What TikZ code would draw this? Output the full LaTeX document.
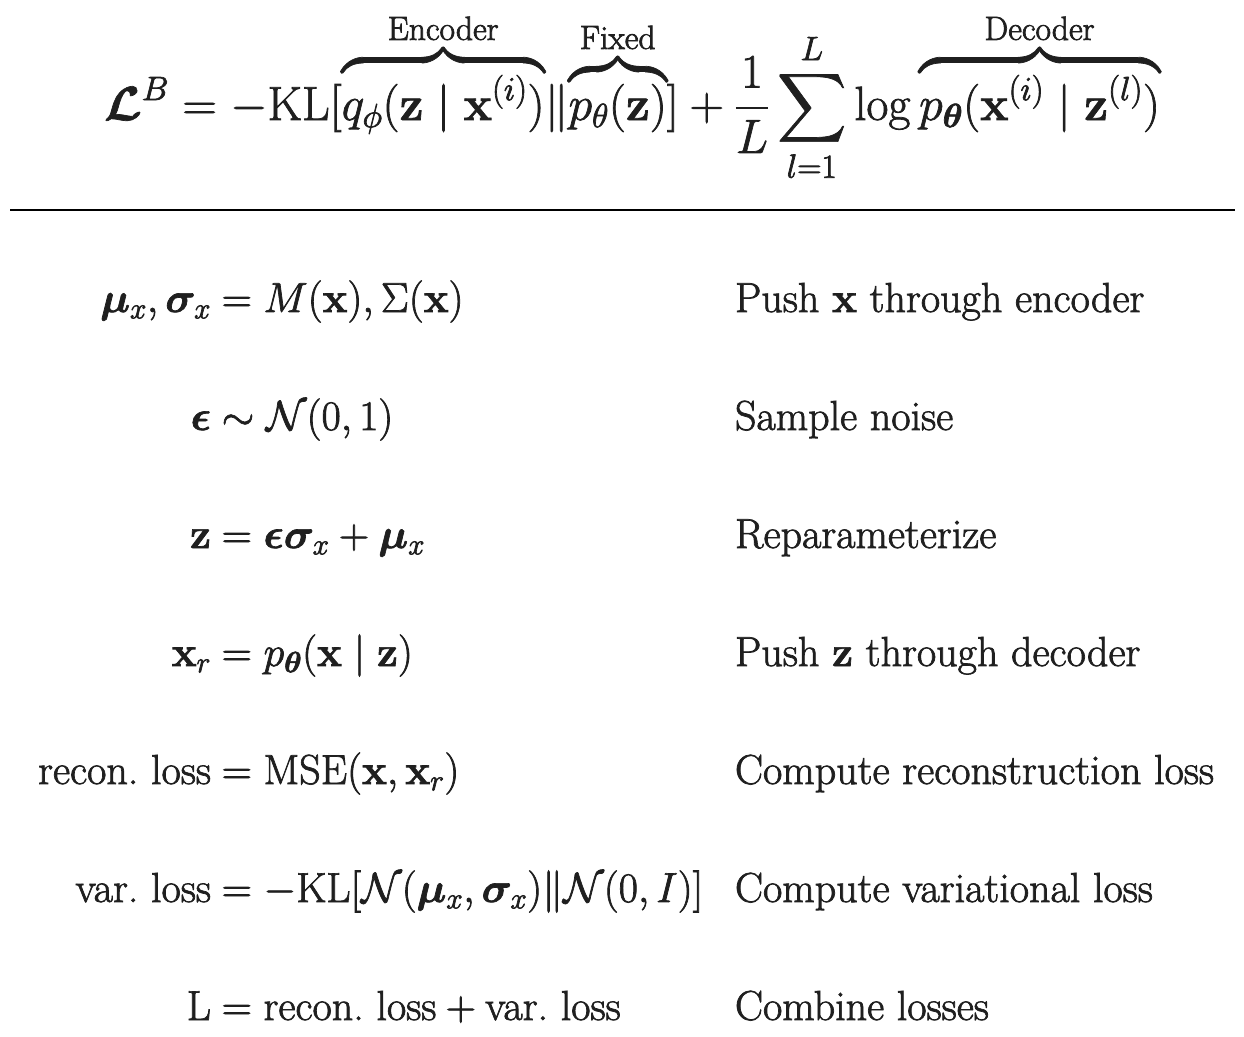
\documentclass[tikz,border=0pt]{standalone}
\usepackage{fix-cm}
\usepackage{amsmath,bm}
\DeclareFontShape{OMX}{cmex}{m}{n}{<->cmex10}{}
\newcommand\liftbox[1]{\vbox{\kern9pt\hbox{$\displaystyle #1$}}}
\newcommand\bracelabel[1]{\text{#1\rule[-9pt]{0pt}{0pt}}}
\begin{document}
\frenchspacing
\begin{tikzpicture}[x=1pt,y=-1pt,
  heavy/.style={inner sep=0pt,outer sep=0pt,text=black!88},
  base/.style={heavy,font=\special{pdf:literal direct 0.7 w 2 Tr}\fontsize{42}{50}\selectfont},
  topeq/.style={heavy,font=\special{pdf:literal direct 0.7 w 2 Tr}\fontsize{48}{58}\selectfont},
  lhs/.style={base,anchor=base east},
  rhs/.style={base,anchor=base west},
  desc/.style={base,anchor=base west},
  rulestyle/.style={line width=2.8pt,black}]
\useasboundingbox (0,0) rectangle (1244,1036);
\node[topeq,anchor=base] (elbo) at (632,120) {$\displaystyle \bm{\mathcal{L}}^B = -\mathrm{KL}[{\overbrace{\liftbox{q_\phi(\mathbf{z}\mid\mathbf{x}^{(i)})}}^{\bracelabel{Encoder}}}\|{\overbrace{\liftbox{p_\theta(\mathbf{z})}}^{\bracelabel{Fixed}}}] + \frac{1}{L}\sum_{l=1}^{L}\log{\overbrace{\liftbox{p_{\bm{\theta}}(\mathbf{x}^{(i)}\mid\mathbf{z}^{(l)})}}^{\bracelabel{Decoder}}}$};
\coordinate (ruleL) at (10,210);
\coordinate (ruleR) at (1235,210);
\draw[rulestyle] (ruleL) -- (ruleR);
% rows
\node[lhs] (l1) at (211,312) {$\bm{\mu}_x, \bm{\sigma}_x$};
\node[rhs] (r1) at (210,312) {${}= M(\mathbf{x}), \Sigma(\mathbf{x})$};
\node[desc] (d1) at (735,312) {Push $\mathbf{x}$ through encoder};
\node[lhs] (l2) at (211,430) {$\bm{\epsilon}$};
\node[rhs] (r2) at (210,430) {${}\sim \mathcal{N}(0,1)$};
\node[desc] (d2) at (735,430) {Sample noise};
\node[lhs] (l3) at (211,548) {$\mathbf{z}$};
\node[rhs] (r3) at (210,548) {${}= \bm{\epsilon}\bm{\sigma}_x + \bm{\mu}_x$};
\node[desc] (d3) at (735,548) {Reparameterize};
\node[lhs] (l4) at (211,666) {$\mathbf{x}_r$};
\node[rhs] (r4) at (210,666) {${}= p_{\bm{\theta}}(\mathbf{x}\mid\mathbf{z})$};
\node[desc] (d4) at (735,666) {Push $\mathbf{z}$ through decoder};
\node[lhs] (l5) at (211,784) {$\text{recon. loss}$};
\node[rhs] (r5) at (210,784) {${}= \text{MSE}(\mathbf{x},\mathbf{x}_r)$};
\node[desc] (d5) at (735,784) {Compute reconstruction loss};
\node[lhs] (l6) at (211,902) {$\text{var. loss}$};
\node[rhs] (r6) at (210,902) {${}= -\text{KL}[\mathcal{N}(\bm{\mu}_x,\bm{\sigma}_x)\|\mathcal{N}(0,I)]$};
\node[desc] (d6) at (735,902) {Compute variational loss};
\node[lhs] (l7) at (211,1020) {$\text{L}$};
\node[rhs] (r7) at (210,1020) {${}= \text{recon. loss} + \text{var. loss}$};
\node[desc] (d7) at (735,1020) {Combine losses};
\end{tikzpicture}
\end{document}
